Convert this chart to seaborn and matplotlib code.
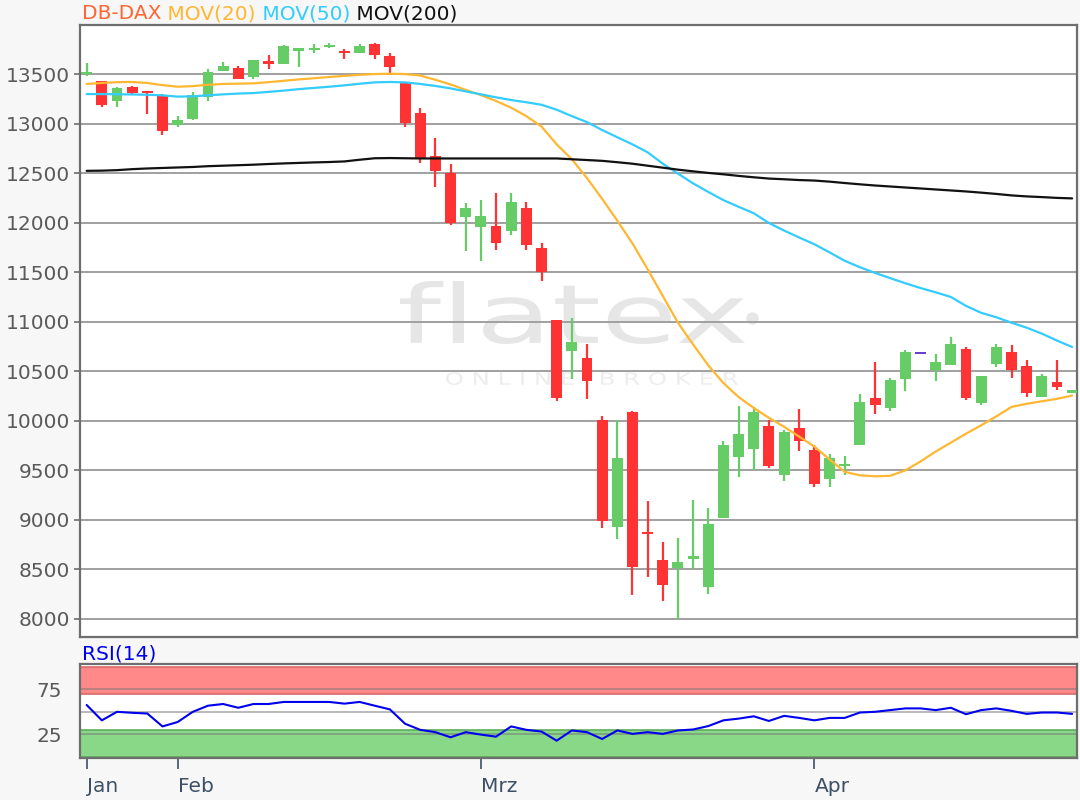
import matplotlib
matplotlib.use("Agg")
import matplotlib.pyplot as plt
import seaborn as sns
import pandas as pd
from matplotlib.textpath import TextPath
from matplotlib.patches import PathPatch
from matplotlib.transforms import Affine2D
from matplotlib.font_manager import FontProperties

# DB-DAX daily candles, late Jan - Apr 2020
opens = [13505, 13425, 13230, 13366, 13325, 13288, 12985, 13045, 13265, 13530,
         13564, 13467, 13631, 13598, 13736, 13743, 13776, 13732, 13709, 13803,
         13685, 13406, 13103, 12672, 12497, 12060, 11958, 11968, 11914, 12150,
         11746, 11015, 10706, 10635, 10012, 8928, 10089, 8877, 8598, 8518,
         8609, 8322, 9023, 9635, 9712, 9948, 9450, 9931, 9709, 9416,
         9544, 9753, 10231, 10134, 10420, 10689, 10510, 10561, 10720, 10180,
         10578, 10695, 10554, 10241, 10392, 10281]
highs = [13610, 13430, 13366, 13382, 13330, 13295, 13076, 13321, 13547, 13624,
         13585, 13641, 13692, 13790, 13760, 13803, 13810, 13750, 13803, 13810,
         13709, 13410, 13160, 12857, 12591, 12194, 12227, 12295, 12295, 12204,
         11790, 11022, 11039, 10780, 10049, 10005, 10095, 9187, 8777, 8817,
         9204, 9120, 9800, 10147, 10140, 10012, 9904, 10117, 9753, 9669,
         9645, 10275, 10594, 10436, 10712, 10689, 10679, 10841, 10740, 10453,
         10780, 10763, 10618, 10476, 10618, 10315]
lows = [13480, 13170, 13164, 13290, 13100, 12884, 12962, 13040, 13227, 13530,
        13449, 13449, 13547, 13598, 13574, 13709, 13760, 13648, 13709, 13648,
        13507, 12962, 12598, 12362, 11975, 11715, 11614, 11729, 11874, 11729,
        11412, 10200, 10420, 10218, 8922, 8803, 8238, 8423, 8177, 8003,
        8507, 8255, 9023, 9433, 9500, 9527, 9389, 9692, 9332, 9332,
        9457, 9753, 10073, 10096, 10298, 10689, 10399, 10561, 10215, 10164,
        10544, 10437, 10241, 10241, 10315, 10281]
closes = [13520, 13187, 13356, 13305, 13318, 12927, 13035, 13288, 13523, 13584,
          13449, 13641, 13598, 13786, 13760, 13760, 13793, 13715, 13786, 13692,
          13574, 13008, 12649, 12520, 11992, 12150, 12069, 11796, 12210, 11773,
          11497, 10235, 10796, 10402, 8989, 9625, 8524, 8861, 8339, 8575,
          8635, 8962, 9753, 9871, 10089, 9544, 9887, 9793, 9366, 9629,
          9568, 10190, 10157, 10416, 10695, 10689, 10594, 10780, 10235, 10453,
          10740, 10517, 10281, 10453, 10342, 10308]

mov20 = [13400, 13410, 13418, 13420, 13410, 13388, 13372, 13378, 13392, 13400,
         13403, 13406, 13418, 13432, 13446, 13458, 13470, 13482, 13492, 13500,
         13503, 13500, 13485, 13442, 13395, 13340, 13288, 13228, 13160, 13075,
         12970, 12790, 12640, 12450, 12240, 12020, 11790, 11530, 11260, 10990,
         10770, 10560, 10380, 10240, 10130, 10030, 9940, 9840, 9740, 9610,
         9485, 9450, 9440, 9445, 9500, 9590, 9690, 9780, 9870, 9955,
         10045, 10140, 10172, 10197, 10222, 10255]
mov50 = [13298, 13298, 13296, 13294, 13291, 13285, 13272, 13275, 13285, 13295,
         13303, 13308, 13320, 13333, 13348, 13360, 13372, 13386, 13402, 13416,
         13420, 13416, 13400, 13380, 13355, 13325, 13295, 13265, 13238, 13215,
         13190, 13140, 13075, 13015, 12935, 12862, 12790, 12710, 12595, 12495,
         12396, 12310, 12227, 12160, 12095, 11997, 11920, 11850, 11782, 11700,
         11615, 11550, 11493, 11440, 11388, 11340, 11297, 11250, 11160, 11090,
         11045, 10990, 10940, 10880, 10810, 10745]
mov200 = [12523, 12525, 12530, 12540, 12547, 12552, 12557, 12562, 12570, 12575,
          12580, 12585, 12592, 12598, 12603, 12608, 12612, 12618, 12635, 12650,
          12652, 12650, 12648, 12648, 12648, 12648, 12648, 12648, 12648, 12648,
          12648, 12648, 12640, 12632, 12624, 12610, 12595, 12575, 12555, 12535,
          12518, 12502, 12488, 12472, 12458, 12445, 12438, 12430, 12425, 12414,
          12400, 12387, 12375, 12365, 12355, 12345, 12335, 12325, 12315, 12303,
          12290, 12275, 12265, 12258, 12250, 12245]
rsi14 = [57.6, 40.5, 50.0, 48.9, 48.1, 33.7, 38.6, 50.0, 56.8, 58.7,
         54.5, 58.7, 58.7, 61.0, 61.0, 61.0, 61.0, 59.1, 61.0, 56.8,
         52.7, 36.7, 29.9, 27.3, 21.6, 27.3, 24.6, 22.3, 33.7, 29.9,
         28.0, 17.8, 29.2, 27.3, 19.7, 29.2, 25.4, 27.3, 25.4, 29.2,
         30.3, 34.1, 40.5, 42.4, 45.0, 39.8, 45.5, 43.2, 40.5, 43.2,
         43.2, 49.2, 50.0, 51.9, 53.8, 53.8, 51.9, 54.5, 47.3, 51.9,
         53.8, 51.1, 47.7, 49.2, 49.2, 47.7]

month_ticks = [0, 6, 26, 48]
month_labels = ["Jan", "Feb", "Mrz", "Apr"]
price_ticks = [8000, 8500, 9000, 9500, 10000, 10500, 11000, 11500,
               12000, 12500, 13000, 13500]
rsi_ticks = [25, 50, 75]
rsi_labels = ["25", "", "75"]

GREEN = "#66cc66"
RED = "#ff3333"
FLAT = "#6a3fd0"
FRAME = "#6e6e6e"
GRID = "#a0a0a0"

sns.set_theme(style="white")
plt.rcParams["font.family"] = ["DejaVu Sans"]

df = pd.DataFrame({
    "idx": range(len(opens)),
    "open": opens,
    "high": highs,
    "low": lows,
    "close": closes,
    "mov20": mov20,
    "mov50": mov50,
    "mov200": mov200,
    "rsi": rsi14,
})

fig = plt.figure(figsize=(10.8, 8), dpi=100, facecolor="#f7f7f7")
ax = fig.add_axes([80 / 1080, 1 - 637 / 800, 997 / 1080, 612 / 800])
ax_rsi = fig.add_axes([80 / 1080, 1 - 758 / 800, 997 / 1080, 94 / 800], sharex=ax)


def watermark(ax, s, left, top, width, height, color, weight="normal"):
    # text stretched into a pixel box (top-left origin)
    path = TextPath((0, 0), s, size=100,
                    prop=FontProperties(family="DejaVu Sans", weight=weight))
    bb = path.get_extents()
    tr = (Affine2D().translate(-bb.x0, -bb.y0)
          .scale(width / bb.width, height / bb.height)
          .translate(left, 800 - top - height))
    ax.add_artist(PathPatch(path, transform=tr, facecolor=color,
                            edgecolor="none", zorder=0))


watermark(ax, "flatex", 400, 281, 345, 63, "#e6e6e6")
watermark(ax, "O N L I N E   B R O K E R", 446, 372, 292, 13, "#ededed")
ax.scatter([(752 - 80) / 997], [(637 - 318) / 612], transform=ax.transAxes,
           s=80, color="#e6e6e6", linewidths=0, zorder=0)

# candles
for row in df.itertuples():
    if row.close > row.open:
        color = GREEN
    elif row.close < row.open:
        color = RED
    else:
        color = FLAT
    ax.vlines(row.idx, row.low, row.high, color=color, lw=1.6, zorder=3)
    body = abs(row.close - row.open)
    height = max(body, 20)
    bottom = min(row.open, row.close) - (height - body) / 2
    ax.bar(row.idx, height, width=0.72, bottom=bottom, color=color,
           edgecolor="none", zorder=3)

# moving averages
sns.lineplot(data=df, x="idx", y="mov20", ax=ax, color="#ffb732", lw=1.6, zorder=4)
sns.lineplot(data=df, x="idx", y="mov50", ax=ax, color="#33ccff", lw=1.6, zorder=4)
sns.lineplot(data=df, x="idx", y="mov200", ax=ax, color="#111111", lw=1.6, zorder=4)

ax.set_xlim(-0.44, 65.32)
ax.set_ylim(7818, 13995)
ax.set_yticks(price_ticks)
ax.yaxis.grid(True, color=GRID, lw=1.4, zorder=1)
ax.set_axisbelow(True)
ax.set_xlabel("")
ax.set_ylabel("")
ax.set_facecolor("white")
ax.tick_params(axis="y", left=True, length=4, width=1.2, color=FRAME,
               labelcolor="#5a5a5a", labelsize=14.5, pad=3)
ax.tick_params(axis="x", bottom=False, labelbottom=False)
for s in ax.spines.values():
    s.set_color(FRAME)
    s.set_linewidth(1.6)

# legend line at top
t = ax.annotate("DB-DAX", xy=(82 / 1080, 1 - 19 / 800), xycoords="figure fraction",
                color="#ff6633", fontsize=14.5, va="baseline", annotation_clip=False)
for label, col in [("MOV(20)", "#ffb732"), ("MOV(50)", "#33ccff"),
                   ("MOV(200)", "#111111")]:
    t = ax.annotate(" " + label, xy=(1, 0), xycoords=t, color=col, fontsize=14.5,
                    va="bottom", annotation_clip=False)

# RSI panel
ax_rsi.axhspan(70, 100, facecolor="#ff8888", edgecolor="#d96a6a", lw=1.2, zorder=1)
ax_rsi.axhspan(0, 30, facecolor="#88d888", edgecolor="#5fae5f", lw=1.2, zorder=1)
for v in rsi_ticks:
    ax_rsi.axhline(v, color="#777777", lw=1.2, alpha=0.6, zorder=2)
sns.lineplot(data=df, x="idx", y="rsi", ax=ax_rsi, color="#0000ee", lw=1.5, zorder=4)
ax_rsi.set_ylim(-1.5, 103.3)
ax_rsi.set_yticks(rsi_ticks)
ax_rsi.set_yticklabels(rsi_labels)
ax_rsi.set_xticks(month_ticks)
ax_rsi.set_xticklabels(month_labels, ha="left")
ax_rsi.set_xlabel("")
ax_rsi.set_ylabel("")
ax_rsi.set_facecolor("white")
ax_rsi.tick_params(axis="y", left=False, labelcolor="#5a5a5a", labelsize=14.5, pad=7)
ax_rsi.tick_params(axis="x", bottom=True, length=8, width=1.2, color="#3d5066",
                   labelcolor="#3d5066", labelsize=14.5, pad=6)
for s in ax_rsi.spines.values():
    s.set_color(FRAME)
    s.set_linewidth(1.6)

fig.text(82 / 1080, 1 - 659 / 800, "RSI(14)", color="#0000ee", fontsize=14.5,
         va="baseline")

fig.savefig("out.png", dpi=100, facecolor=fig.get_facecolor())
